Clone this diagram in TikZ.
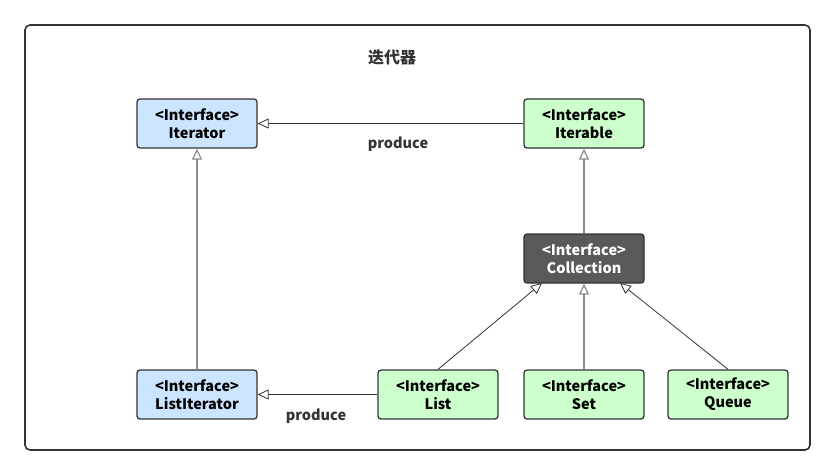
\documentclass[tikz,border=0pt]{standalone}
\usepackage{fontspec}
\setmainfont{Noto Sans CJK SC}
\usetikzlibrary{arrows.meta}
\definecolor{bluefill}{HTML}{CCE5FF}
\definecolor{greenfill}{HTML}{CCFFCC}
\definecolor{darkfill}{HTML}{595959}
\definecolor{edge}{HTML}{333333}
\definecolor{lightedge}{HTML}{8C8C8C}
\tikzset{
  iface/.style={draw=edge, line width=1.3pt, rounded corners=3pt, minimum width=120pt, minimum height=49pt, align=center, font=\fontsize{14.5}{18}\selectfont\bfseries, inner sep=0pt},
  bluebox/.style={iface, fill=bluefill},
  greenbox/.style={iface, fill=greenfill},
  darkbox/.style={iface, fill=darkfill, text=white},
  inherit/.style={-{Triangle[open, length=11pt, width=10pt, fill=white]}, line width=0.8pt, draw=edge},
  inheritlight/.style={inherit, draw=lightedge, line width=1.2pt},
  lbl/.style={font=\fontsize{14.5}{18}\selectfont\bfseries, text=edge}
}
\begin{document}
\begin{tikzpicture}[x=1pt,y=-1pt]
\useasboundingbox (0,0) rectangle (836,476);
\draw[draw=edge, line width=1.6pt, rounded corners=5pt] (25,25) rectangle (810,450);
\node[lbl, font=\fontsize{16}{19}\selectfont\bfseries] (title) at (392,57) {迭代器};
\node[bluebox] (iterator) at (197,123.5) {<Interface>\\Iterator};
\node[greenbox] (iterable) at (584,123.5) {<Interface>\\Iterable};
\node[darkbox] (collection) at (584,258.5) {<Interface>\\Collection};
\node[bluebox] (listiterator) at (197,394.5) {<Interface>\\ListIterator};
\node[greenbox] (list) at (438,394.5) {<Interface>\\List};
\node[greenbox] (set) at (584,394.5) {<Interface>\\Set};
\node[greenbox] (queue) at (728,394.5) {<Interface>\\Queue};
\draw[inherit] (iterable.west) -- (iterator.east);
\node[lbl] (p1) at (398,144) {produce};
\draw[inheritlight] (listiterator.north) -- (iterator.south);
\draw[inheritlight] (collection.north) -- (iterable.south);
\draw[inherit] (list.west) -- (listiterator.east);
\node[lbl] (p2) at (316,416) {produce};
\draw[inheritlight] (set.north) -- (collection.south);
\coordinate (cl) at (542,283);
\coordinate (cr) at (620,283);
\draw[inherit] (list.north) -- (cl);
\draw[inherit] (queue.north) -- (cr);
\end{tikzpicture}
\end{document}
